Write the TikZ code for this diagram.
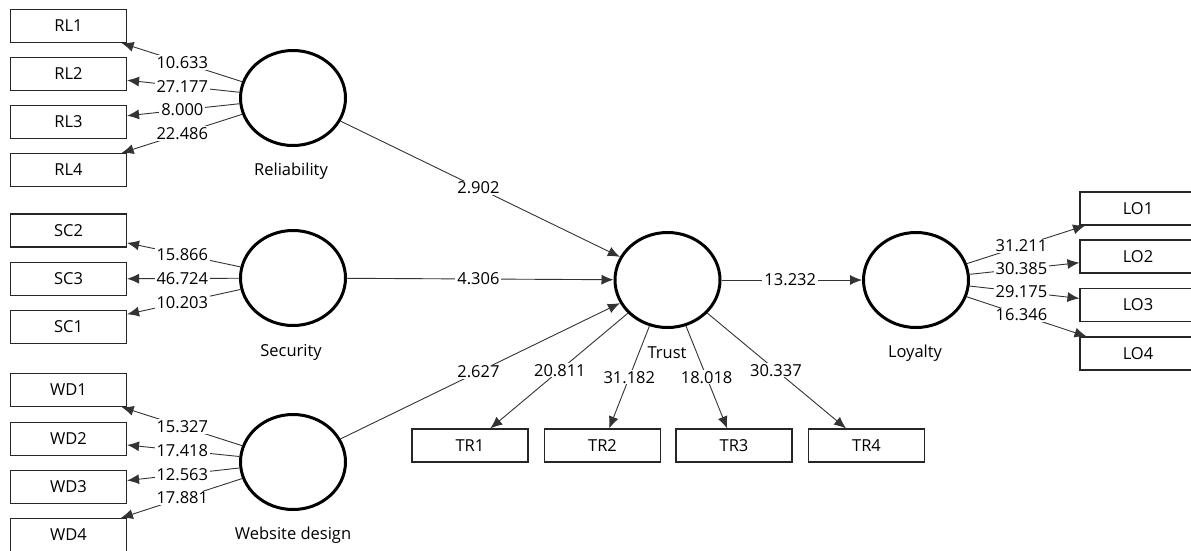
\documentclass[tikz,border=0pt]{standalone}
\usepackage{fontspec}
\setmainfont{Open Sans}
\usetikzlibrary{shapes.geometric,arrows.meta,calc}
\begin{document}
\begin{tikzpicture}[x=1pt,y=-1pt,
  ind/.style={draw=black!85, line width=1.1pt, minimum width=116pt, minimum height=33pt, inner sep=0pt, fill=white, font=\fontsize{16.5}{18}\selectfont, text=black},
  lat/.style={ellipse, draw=black, line width=3pt, minimum width=105pt, minimum height=95pt, inner sep=0pt},
  con/.style={draw=black!80, line width=0.9pt, -{Latex[length=12pt,width=10pt]}},
  lbl/.style={fill=white, inner xsep=2pt, inner ysep=1pt, font=\fontsize{16.5}{18}\selectfont, text=black},
  latname/.style={font=\fontsize{16.5}{18}\selectfont, text=black}
]
\clip (0,0) rectangle (1191,550);
\fill[white] (0,0) rectangle (1191,550);

% indicators
\node[ind] (RL1) at (68.5,26) {RL1};
\node[ind] (RL2) at (68.5,74) {RL2};
\node[ind] (RL3) at (68.5,122) {RL3};
\node[ind] (RL4) at (68.5,170) {RL4};
\node[ind] (SC2) at (68.5,230.5) {SC2};
\node[ind] (SC3) at (68.5,279) {SC3};
\node[ind] (SC1) at (68.5,327) {SC1};
\node[ind] (WD1) at (68.5,390) {WD1};
\node[ind] (WD2) at (68.5,439) {WD2};
\node[ind] (WD3) at (68.5,487) {WD3};
\node[ind] (WD4) at (68.5,535) {WD4};
\node[ind] (TR1) at (470,445.5) {TR1};
\node[ind] (TR2) at (602.5,445.5) {TR2};
\node[ind] (TR3) at (734,445.5) {TR3};
\node[ind] (TR4) at (866.5,445.5) {TR4};
\node[ind] (LO1) at (1138,208.5) {LO1};
\node[ind] (LO2) at (1138,256.5) {LO2};
\node[ind] (LO3) at (1138,305) {LO3};
\node[ind] (LO4) at (1138,353.5) {LO4};

% latents
\node[lat] (rel) at (293,98) {};
\node[lat] (sec) at (293,278) {};
\node[lat] (web) at (293,462) {};
\node[lat] (tru) at (667.5,280) {};
\node[lat] (loy) at (916,280) {};

\node[latname] (relN) at (291,171) {Reliability};
\node[latname] (secN) at (291,352) {Security};
\node[latname] (webN) at (293,535) {Website design};
\node[latname] (truN) at (667,353) {Trust};
\node[latname] (loyN) at (915,353) {Loyalty};

% outer loadings
\foreach \a/\b/\p/\t in {rel/RL1/0.493/10.633, rel/RL2/0.493/27.177, rel/RL3/0.493/8.000, rel/RL4/0.493/22.486,
  sec/SC2/0.493/15.866, sec/SC3/0.493/46.724, sec/SC1/0.493/10.203,
  web/WD1/0.493/15.327, web/WD2/0.493/17.418, web/WD3/0.493/12.563, web/WD4/0.493/17.881,
  tru/TR1/0.545/20.811, tru/TR2/0.588/31.182, tru/TR3/0.588/18.018, tru/TR4/0.545/30.337,
  loy/LO1/0.475/31.211, loy/LO2/0.475/30.385, loy/LO3/0.475/29.175, loy/LO4/0.475/16.346}{
  \draw[con] (\a) -- (\b);
  \node[lbl] at ($(\a)!\p!(\b)$) {\t};
}

% structural paths
\foreach \a/\b/\p/\t in {rel/tru/0.495/2.902, sec/tru/0.495/4.306, web/tru/0.495/2.627, tru/loy/0.494/13.232}{
  \draw[con] (\a) -- (\b);
  \node[lbl] at ($(\a)!\p!(\b)$) {\t};
}
\end{tikzpicture}
\end{document}
